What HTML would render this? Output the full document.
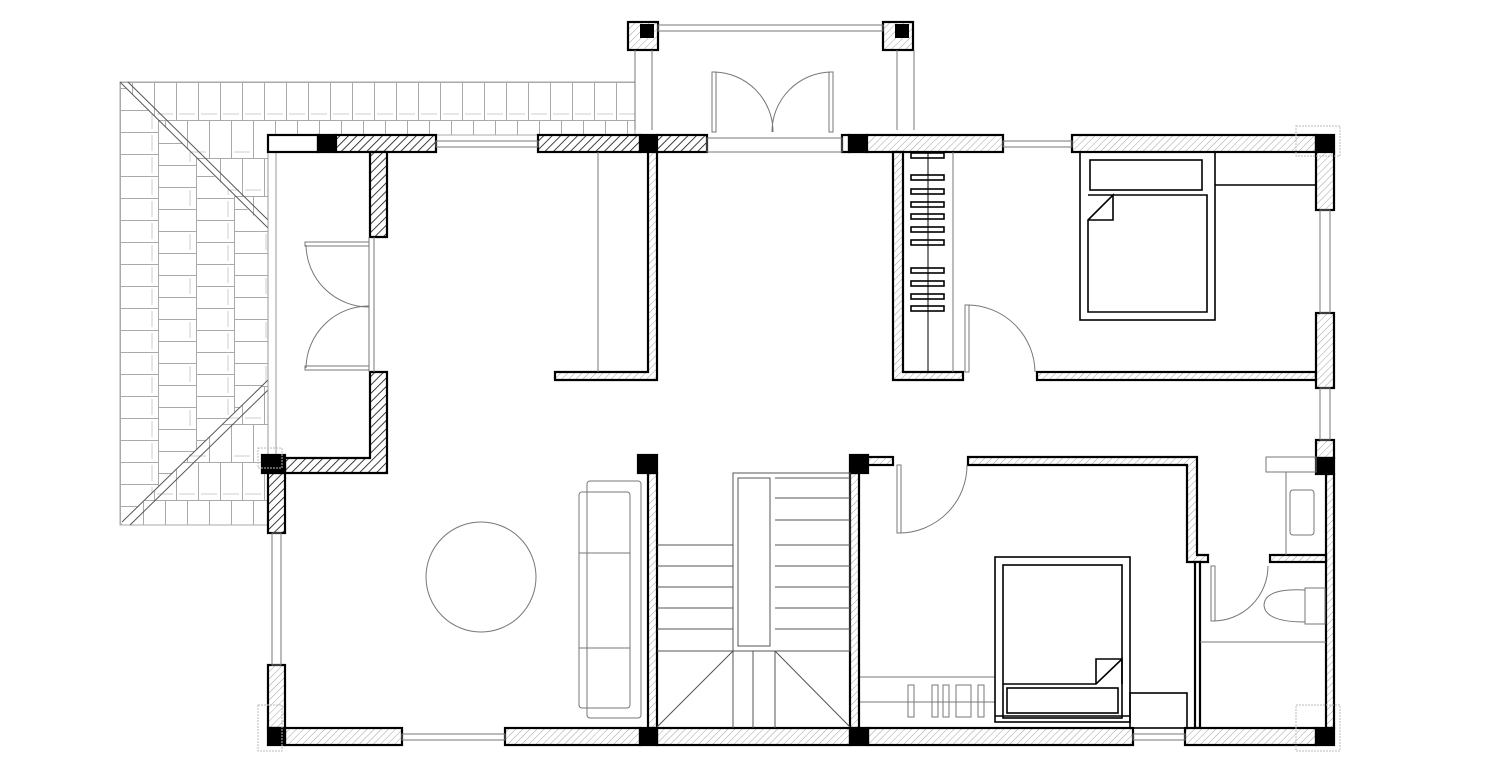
<!DOCTYPE html>
<html><head><meta charset="utf-8"><style>html,body{margin:0;padding:0;background:#fff}svg{display:block}</style></head><body>
<svg width="1500" height="768" viewBox="0 0 1500 768" xmlns="http://www.w3.org/2000/svg">
<defs>
<pattern id="hd" width="6" height="6" patternUnits="userSpaceOnUse" patternTransform="rotate(45)"><rect width="6" height="6" fill="#fff"/><line x1="0" y1="0" x2="0" y2="6" stroke="#111" stroke-width="1.6"/></pattern>
<pattern id="hl" width="5" height="5" patternUnits="userSpaceOnUse" patternTransform="rotate(45)"><rect width="5" height="5" fill="#fff"/><line x1="0" y1="0" x2="0" y2="5" stroke="#999" stroke-width="0.9"/></pattern>
<pattern id="tileV" x="0" y="82" width="44" height="76" patternUnits="userSpaceOnUse"><rect width="44" height="76" fill="#fff"/><path d="M0 0.5H44M0 38.5H44M0.5 0V38M22.5 0V38M11.5 38V76M33.5 38V76" stroke="#aaa" stroke-width="1" fill="none"/><path d="M3 32H19M25 32H41M14 70H30" stroke="#ccc" stroke-width="1"/></pattern>
<pattern id="tileH" x="120" y="0" width="76" height="44" patternUnits="userSpaceOnUse"><rect width="76" height="44" fill="#fff"/><path d="M0.5 0V44M38.5 0V44M0 0.5H38M0 22.5H38M38 11.5H76M38 33.5H76" stroke="#aaa" stroke-width="1" fill="none"/><path d="M32 3V19M32 25V41M70 14V30" stroke="#ccc" stroke-width="1"/></pattern>
</defs>
<!-- roof -->
<polygon points="120,82 635,82 635,135 268,135 268,525 120,525" fill="url(#tileV)" stroke="#aaa"/>
<polygon points="120,82 268,230 268,380 120,525" fill="url(#tileH)" stroke="none"/>
<line x1="120" y1="82" x2="268" y2="228" stroke="#555" stroke-width="1"/>
<line x1="128" y1="82" x2="268" y2="220" stroke="#555" stroke-width="1"/>
<line x1="268" y1="380" x2="122" y2="522" stroke="#555" stroke-width="1"/>
<line x1="268" y1="390" x2="130" y2="525" stroke="#555" stroke-width="1"/>
<rect x="268" y="135" width="120" height="330" fill="#fff"/>
<g fill="none" stroke="#999" stroke-width="1">
<line x1="276" y1="152" x2="276" y2="458"/><line x1="268" y1="152" x2="268" y2="458"/>
</g>
<g stroke="#000" stroke-width="2.2">
<rect x="268" y="135" width="50" height="17" fill="#fff"/>
<rect x="318" y="135" width="18" height="17" fill="#000"/>
<rect x="336" y="135" width="100" height="17" fill="url(#hd)"/>
<rect x="538" y="135" width="102" height="17" fill="url(#hd)"/>
<rect x="640" y="135" width="17" height="17" fill="#000"/>
<rect x="657" y="135" width="50" height="17" fill="url(#hd)"/>
<rect x="842" y="135" width="7" height="17" fill="#fff"/>
<rect x="849" y="135" width="18" height="17" fill="#000"/>
<rect x="867" y="135" width="136" height="17" fill="url(#hl)"/>
<rect x="1072" y="135" width="244" height="17" fill="url(#hl)"/>
<rect x="1316" y="135" width="18" height="17" fill="#000"/>
<polygon points="370,152 387,152 387,237 370,237" fill="url(#hd)"/>
<polygon points="370,372 387,372 387,473 285,473 285,458 370,458" fill="url(#hd)"/>
<rect x="268" y="473" width="17" height="60" fill="url(#hd)"/>
<rect x="262" y="455" width="23" height="18" fill="#000"/>
<rect x="268" y="665" width="17" height="63" fill="url(#hl)"/>
<polygon points="648,152 657,152 657,380 555,380 555,372 648,372" fill="url(#hl)"/>
<polygon points="893,152 903,152 903,372 963,372 963,380 893,380" fill="url(#hl)"/>
<rect x="1037" y="372" width="279" height="8" fill="url(#hl)"/>
<rect x="1316" y="152" width="18" height="58" fill="url(#hl)"/>
<rect x="1316" y="313" width="18" height="75" fill="url(#hl)"/>
<rect x="1316" y="440" width="18" height="18" fill="url(#hl)"/>
<rect x="1316" y="458" width="18" height="16" fill="#000"/>
<rect x="1326" y="474" width="8" height="254" fill="url(#hl)"/>
<rect x="648" y="473" width="9" height="255" fill="url(#hl)"/>
<rect x="638" y="455" width="19" height="18" fill="#000"/>
<rect x="850" y="473" width="9" height="255" fill="url(#hl)"/>
<rect x="850" y="455" width="18" height="18" fill="#000"/>
<rect x="868" y="457" width="25" height="8" fill="url(#hl)"/>
<polygon points="968,457 1197,457 1197,555 1208,555 1208,562 1187,562 1187,465 968,465" fill="url(#hl)"/>
<rect x="1270" y="555" width="56" height="7" fill="url(#hl)"/>
<rect x="1195" y="562" width="5" height="166" fill="#fff"/>
<rect x="285" y="728" width="117" height="17" fill="url(#hl)"/>
<rect x="505" y="728" width="135" height="17" fill="url(#hl)"/>
<rect x="657" y="728" width="193" height="17" fill="url(#hl)"/>
<rect x="868" y="728" width="265" height="17" fill="url(#hl)"/>
<rect x="1185" y="728" width="131" height="17" fill="url(#hl)"/>
<rect x="268" y="728" width="17" height="17" fill="#000"/>
<rect x="640" y="728" width="17" height="17" fill="#000"/>
<rect x="850" y="728" width="18" height="17" fill="#000"/>
<rect x="1316" y="728" width="18" height="17" fill="#000"/>
<rect x="628" y="22" width="30" height="28" fill="url(#hl)"/>
<rect x="883" y="22" width="30" height="28" fill="url(#hl)"/>
</g>
<rect x="640" y="24" width="14" height="14" fill="#000"/>
<rect x="895" y="24" width="14" height="14" fill="#000"/>
<g fill="none" stroke="#777" stroke-width="1">
<rect x="658" y="25" width="225" height="6"/>
<line x1="635" y1="50" x2="635" y2="130"/><line x1="652" y1="50" x2="652" y2="130"/>
<line x1="897" y1="50" x2="897" y2="130"/><line x1="914" y1="50" x2="914" y2="130"/>
<rect x="436" y="141" width="102" height="6"/>
<rect x="1003" y="141" width="69" height="6"/>
<rect x="707" y="138" width="135" height="14"/>
<rect x="1320" y="210" width="10" height="103"/>
<rect x="1320" y="388" width="10" height="52"/>
<rect x="402" y="734" width="103" height="6"/>
<rect x="1133" y="734" width="52" height="6"/>
<rect x="272" y="533" width="9" height="132"/>
<rect x="712" y="72" width="4" height="60"/><rect x="829" y="72" width="4" height="60"/>
<path d="M714 72 A60 60 0 0 1 773 132 M831 72 A60 60 0 0 0 772 132"/>
<rect x="305" y="242" width="64" height="4"/><rect x="305" y="366" width="64" height="4"/>
<path d="M306 245 A63 63 0 0 0 369 307 M306 368 A63 63 0 0 1 369 306"/>
<line x1="369" y1="237" x2="369" y2="372"/><line x1="374" y1="237" x2="374" y2="372"/>
<rect x="965" y="305" width="4" height="67"/><path d="M967 305 A68 68 0 0 1 1035 372"/>
<rect x="897" y="465" width="4" height="68"/><path d="M899 533 A68 68 0 0 0 967 465"/>
<rect x="1211" y="566" width="4" height="55"/><path d="M1213 621 A55 55 0 0 0 1268 566"/>
<line x1="953" y1="152" x2="953" y2="372"/>
<circle cx="481" cy="577" r="55"/>
<rect x="587" y="481" width="54" height="237" rx="3"/>
<rect x="579" y="492" width="51" height="216" rx="3"/>
<line x1="579" y1="553" x2="630" y2="553"/><line x1="579" y1="648" x2="630" y2="648"/>
<line x1="598" y1="152" x2="598" y2="372"/>
<g stroke="#555">
<rect x="733" y="473" width="117" height="178"/>
<rect x="738" y="478" width="32" height="168"/>
<path d="M657 545H733M657 566H733M657 587H733M657 608H733M657 629H733M657 651H850M775 478H850M775 498H850M775 520H850M775 545H850M775 566H850M775 587H850M775 608H850M775 629H850"/>
<path d="M733 651L657 727M775 651L850 727M733 651V728M753 651V728M775 651V728"/>
</g>
<rect x="1266" y="457" width="50" height="15"/>
<line x1="1286" y1="472" x2="1286" y2="555"/>
<rect x="1290" y="490" width="24" height="45" rx="3"/>
<path d="M1305 590 Q1265 588 1264 605 Q1265 622 1305 622"/>
<rect x="1305" y="588" width="20" height="36"/>
<line x1="1200" y1="642" x2="1326" y2="642"/>
<rect x="1296" y="126" width="44" height="30" stroke="#bbb" stroke-dasharray="2 1"/>
<rect x="1296" y="705" width="44" height="46" stroke="#bbb" stroke-dasharray="2 1"/>
<rect x="258" y="705" width="24" height="46" stroke="#bbb" stroke-dasharray="2 1"/>
<rect x="258" y="448" width="24" height="20" stroke="#bbb" stroke-dasharray="2 1"/>
<line x1="860" y1="677" x2="995" y2="677"/><line x1="860" y1="702" x2="995" y2="702"/>
<rect x="908" y="685" width="6" height="32"/><rect x="932" y="685" width="6" height="32"/><rect x="943" y="685" width="6" height="32"/><rect x="956" y="685" width="15" height="32"/><rect x="978" y="685" width="6" height="32"/>
</g>
<g fill="none" stroke="#000" stroke-width="1.6">
<line x1="928" y1="152" x2="928" y2="372" stroke-width="1"/>
<rect x="911" y="153" width="33" height="5"/><rect x="911" y="175" width="33" height="5"/><rect x="911" y="189" width="33" height="5"/><rect x="911" y="202" width="33" height="5"/><rect x="911" y="214" width="33" height="5"/><rect x="911" y="227" width="33" height="5"/><rect x="911" y="240" width="33" height="5"/><rect x="911" y="268" width="33" height="5"/><rect x="911" y="281" width="33" height="5"/><rect x="911" y="294" width="33" height="5"/><rect x="911" y="306" width="33" height="5"/>
<rect x="1080" y="152" width="135" height="168"/>
<rect x="1090" y="160" width="112" height="30"/>
<path d="M1088 195H1207V312H1088V220L1113 195V220H1088"/>
<line x1="1215" y1="185" x2="1316" y2="185"/>
<rect x="995" y="557" width="135" height="165"/>
<rect x="1003" y="565" width="119" height="153"/>
<path d="M1003 684H1096L1122 659V684M1096 684V659H1122"/>
<rect x="1007" y="688" width="111" height="25"/>
<line x1="995" y1="716" x2="1130" y2="716"/>
<rect x="1130" y="693" width="57" height="35"/>
</g>
</svg>
</body></html>
